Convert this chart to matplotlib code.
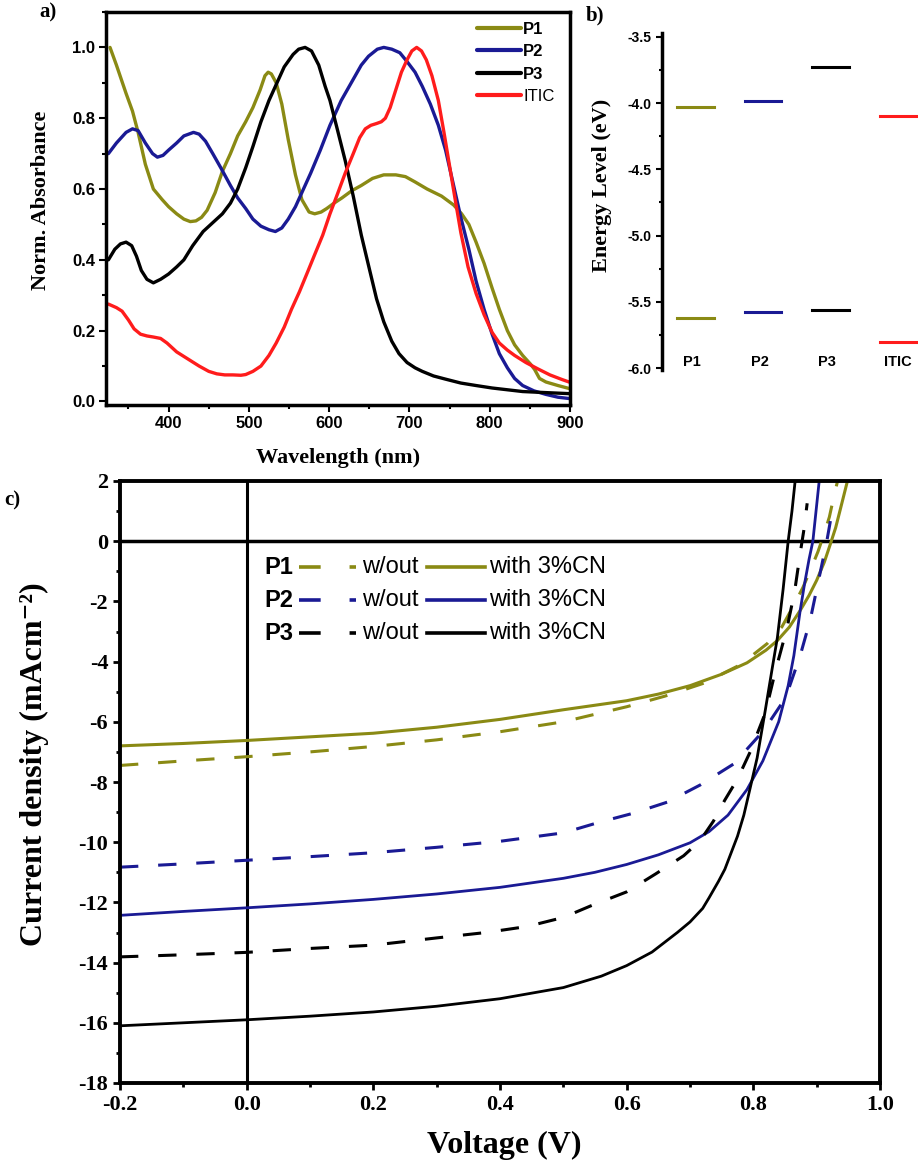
import numpy as np
import matplotlib; matplotlib.use("Agg")
import matplotlib.pyplot as plt
from matplotlib.ticker import MultipleLocator

SERIF = "Liberation Serif"
SANS = "Liberation Sans"
OLIVE, NAVY, RED, BLACK = "#8a8a14", "#1a1a94", "#ff1c1c", "#000000"

# ---- a) normalised absorbance -------------------------------------------
wl_p1 = [327, 335, 347, 355, 362, 371, 381, 392, 400, 410, 419, 427, 434, 441, 448, 458, 467,
         477, 486, 496, 505, 514, 520, 524, 528, 534, 541, 549, 558, 566, 575, 582, 590, 597,
         606, 616, 628, 640, 654, 668, 683, 695, 707, 722, 740, 755, 765, 774, 783, 793, 803,
         812, 822, 831, 841, 851, 856, 862, 870, 885, 900]
abs_p1 = [1.00, 0.95, 0.87, 0.82, 0.76, 0.67, 0.60, 0.57, 0.55, 0.53, 0.515, 0.508, 0.51, 0.52,
          0.54, 0.59, 0.65, 0.70, 0.75, 0.79, 0.83, 0.88, 0.92, 0.93, 0.925, 0.90, 0.84, 0.74,
          0.64, 0.57, 0.535, 0.53, 0.535, 0.545, 0.56, 0.575, 0.595, 0.61, 0.63, 0.64, 0.64,
          0.635, 0.62, 0.60, 0.58, 0.555, 0.53, 0.50, 0.45, 0.39, 0.32, 0.26, 0.20, 0.16, 0.13,
          0.105, 0.09, 0.065, 0.055, 0.045, 0.036]
wl_p2 = [325, 335, 347, 355, 362, 371, 380, 386, 393, 400, 410, 419, 431, 438, 446, 455, 465,
         477, 486, 496, 505, 515, 525, 533, 541, 549, 558, 568, 577, 589, 601, 615, 630, 640,
         649, 660, 668, 678, 688, 697, 707, 716, 726, 736, 745, 755, 764, 774, 783, 793, 803,
         812, 822, 831, 841, 855, 870, 885, 900]
abs_p2 = [0.70, 0.73, 0.76, 0.77, 0.765, 0.73, 0.70, 0.69, 0.695, 0.71, 0.73, 0.75, 0.76, 0.755,
          0.735, 0.70, 0.66, 0.61, 0.575, 0.545, 0.515, 0.495, 0.485, 0.48, 0.49, 0.515, 0.55,
          0.60, 0.645, 0.71, 0.78, 0.85, 0.91, 0.95, 0.975, 0.995, 1.0, 0.995, 0.985, 0.96,
          0.93, 0.89, 0.84, 0.78, 0.71, 0.61, 0.52, 0.43, 0.34, 0.26, 0.19, 0.135, 0.095,
          0.065, 0.045, 0.03, 0.02, 0.012, 0.008]
wl_p3 = [325, 333, 340, 347, 354, 360, 366, 373, 381, 390, 400, 410, 419, 430, 443, 455, 467,
         477, 486, 496, 505, 515, 525, 535, 544, 555, 562, 570, 578, 587, 595, 601, 610, 620,
         630, 640, 650, 659, 668, 678, 687, 697, 707, 716, 730, 745, 764, 783, 803, 822, 841,
         860, 880, 900]
abs_p3 = [0.40, 0.43, 0.445, 0.45, 0.44, 0.41, 0.37, 0.345, 0.335, 0.345, 0.36, 0.38, 0.40,
          0.44, 0.48, 0.505, 0.53, 0.56, 0.60, 0.66, 0.72, 0.79, 0.85, 0.90, 0.945, 0.98,
          0.995, 1.0, 0.99, 0.95, 0.89, 0.85, 0.77, 0.68, 0.58, 0.47, 0.375, 0.29, 0.225, 0.17,
          0.135, 0.11, 0.095, 0.085, 0.072, 0.063, 0.052, 0.045, 0.038, 0.033, 0.028, 0.026,
          0.024, 0.022]
wl_itic = [325, 335, 342, 350, 357, 365, 373, 381, 390, 398, 410, 424, 438, 450, 460, 470, 480,
           490, 496, 505, 515, 525, 534, 544, 553, 563, 573, 582, 592, 601, 611, 620, 630, 638,
           645, 652, 659, 665, 670, 676, 683, 690, 697, 703, 709, 715, 721, 728, 736, 743, 750,
           757, 764, 773, 783, 793, 803, 812, 822, 831, 845, 860, 875, 890, 900]
abs_itic = [0.275, 0.265, 0.255, 0.23, 0.205, 0.19, 0.185, 0.182, 0.178, 0.165, 0.14, 0.12,
            0.10, 0.085, 0.078, 0.075, 0.075, 0.074, 0.076, 0.085, 0.10, 0.13, 0.165, 0.21,
            0.26, 0.31, 0.365, 0.415, 0.47, 0.53, 0.59, 0.645, 0.70, 0.745, 0.77, 0.78, 0.785,
            0.79, 0.80, 0.83, 0.88, 0.93, 0.965, 0.99, 1.0, 0.99, 0.965, 0.92, 0.85, 0.76, 0.665,
            0.57, 0.477, 0.38, 0.305, 0.245, 0.195, 0.165, 0.145, 0.13, 0.11, 0.092, 0.075,
            0.062, 0.054]

# ---- b) energy levels ----------------------------------------------------
materials = ["P1", "P2", "P3", "ITIC"]
lumo = [-4.03, -3.98, -3.73, -4.10]
homo = [-5.62, -5.58, -5.56, -5.80]
level_colors = [OLIVE, NAVY, BLACK, RED]

# ---- c) J-V curves -------------------------------------------------------
v_p1_cn = [-0.2, -0.1, 0.0, 0.1, 0.2, 0.3, 0.4, 0.5, 0.6, 0.65, 0.7, 0.75, 0.79, 0.82, 0.838,
           0.857, 0.874, 0.888, 0.9, 0.912, 0.922, 0.93, 0.937, 0.948]
j_p1_cn = [-6.8, -6.72, -6.62, -6.5, -6.38, -6.18, -5.92, -5.6, -5.3, -5.08, -4.8, -4.42, -4.04,
           -3.62, -3.3, -2.85, -2.3, -1.8, -1.3, -0.7, -0.07, 0.45, 1.03, 1.95]
v_p1_wo = [-0.2, -0.1, 0.0, 0.1, 0.2, 0.3, 0.4, 0.5, 0.6, 0.66, 0.72, 0.78, 0.822, 0.845, 0.862,
           0.878, 0.89, 0.902, 0.911, 0.92, 0.927, 0.933]
j_p1_wo = [-7.45, -7.3, -7.16, -7.0, -6.82, -6.6, -6.33, -6.0, -5.5, -5.15, -4.73, -4.1, -3.4,
           -2.85, -2.2, -1.55, -0.97, -0.35, 0.2, 0.8, 1.47, 2.0]
v_p2_cn = [-0.2, -0.1, 0.0, 0.1, 0.2, 0.3, 0.4, 0.5, 0.55, 0.6, 0.65, 0.7, 0.73, 0.76, 0.79,
           0.815, 0.84, 0.855, 0.864, 0.874, 0.881, 0.888, 0.894, 0.899, 0.904]
j_p2_cn = [-12.43, -12.3, -12.18, -12.05, -11.9, -11.72, -11.5, -11.2, -11.0, -10.74, -10.42,
           -10.02, -9.65, -9.1, -8.25, -7.3, -6.0, -4.8, -3.8, -2.3, -1.4, -0.6, 0.0, 1.0, 2.0]
v_p2_wo = [-0.2, -0.1, 0.0, 0.1, 0.2, 0.3, 0.4, 0.5, 0.558, 0.61, 0.664, 0.716, 0.769, 0.816,
           0.851, 0.874, 0.89, 0.903, 0.916, 0.927]
j_p2_wo = [-10.83, -10.72, -10.6, -10.48, -10.35, -10.17, -9.97, -9.69, -9.33, -9.04, -8.67,
           -8.1, -7.4, -6.3, -5.2, -3.8, -2.6, -1.3, 0.0, 1.3]
v_p3_cn = [-0.2, -0.1, 0.0, 0.1, 0.2, 0.3, 0.4, 0.5, 0.56, 0.6, 0.64, 0.68, 0.70, 0.72, 0.73,
           0.745, 0.755, 0.765, 0.775, 0.785, 0.795, 0.806, 0.819, 0.83, 0.838, 0.847, 0.855,
           0.861, 0.866]
j_p3_cn = [-16.1, -16.0, -15.9, -15.78, -15.64, -15.45, -15.2, -14.83, -14.45, -14.1, -13.65,
           -13.0, -12.65, -12.2, -11.85, -11.3, -10.9, -10.35, -9.8, -9.1, -8.2, -7.2, -5.6,
           -4.2, -3.2, -1.6, 0.0, 1.0, 2.0]
v_p3_wo = [-0.2, -0.1, 0.0, 0.1, 0.2, 0.3, 0.378, 0.443, 0.5, 0.545, 0.6, 0.646, 0.69, 0.716,
           0.737, 0.755, 0.775, 0.795, 0.819, 0.835, 0.853, 0.865, 0.874, 0.88, 0.885]
j_p3_wo = [-13.81, -13.74, -13.66, -13.53, -13.42, -13.18, -13.0, -12.8, -12.5, -12.1, -11.65,
           -11.05, -10.45, -9.95, -9.3, -8.6, -7.9, -7.0, -5.7, -4.3, -2.9, -1.7, -0.4, 0.4, 1.26]

plt.rcParams["font.family"] = SANS
plt.rcParams["font.weight"] = "bold"
plt.rcParams["axes.unicode_minus"] = False

W, H = 918, 1169
fig = plt.figure(figsize=(W / 100, H / 100), dpi=100)
ax_a = fig.add_axes([106 / W, 1 - 405 / H, 464 / W, 393 / H])
ax_b = fig.add_axes([662 / W, 1 - 370 / H, 256 / W, 337 / H])
ax_c = fig.add_axes([120 / W, 1 - 1083 / H, 760 / W, 602 / H])

# ---- panel a
for wl, ab, col, lab in [(wl_p1, abs_p1, OLIVE, "P1"), (wl_p2, abs_p2, NAVY, "P2"),
                         (wl_p3, abs_p3, BLACK, "P3"), (wl_itic, abs_itic, RED, "ITIC")]:
    ax_a.plot(wl, ab, color=col, lw=2.4, label=lab, solid_capstyle="round")
ax_a.set_xlim(322, 900)
ax_a.set_ylim(-0.01, 1.1)
ax_a.xaxis.set_major_locator(MultipleLocator(100)); ax_a.xaxis.set_minor_locator(MultipleLocator(50))
ax_a.yaxis.set_major_locator(MultipleLocator(0.2)); ax_a.yaxis.set_minor_locator(MultipleLocator(0.1))
ax_a.tick_params(which="both", direction="out", width=1.5, labelsize=12, pad=3)
ax_a.tick_params(which="major", length=5); ax_a.tick_params(which="minor", length=3)
for s in ax_a.spines.values():
    s.set_linewidth(2.5)
ax_a.set_xlabel("Wavelength (nm)", family=SERIF, weight="bold", fontsize=16, va="center")
ax_a.xaxis.set_label_coords(0.5, -0.135)
ax_a.set_ylabel("Norm. Absorbance", family=SERIF, weight="bold", fontsize=16, va="center")
ax_a.yaxis.set_label_coords(-0.14, 0.52)
leg = ax_a.legend(loc="upper left", bbox_to_anchor=(0.80, 0.975), frameon=False, fontsize=12,
                  handlelength=2.6, handletextpad=0.15, labelspacing=0.45, borderpad=0,
                  borderaxespad=0)
for t in leg.get_texts()[3:]:
    t.set_fontweight("normal")
for ln in leg.get_lines():
    ln.set_linewidth(3)

# ---- panel b
for i, (m, lu, ho, col) in enumerate(zip(materials, lumo, homo, level_colors)):
    x = i + 1
    ax_b.plot([x - 0.27, x + 0.27], [lu, lu], color=col, lw=2.2)
    ax_b.plot([x - 0.27, x + 0.27], [ho, ho], color=col, lw=2.2)
    ax_b.text(x - 0.05 if i < 3 else x, -5.955, m, ha="center", va="center", fontsize=10.5)
ax_b.set_xlim(0.5, 4.3)
ax_b.set_ylim(-6.015, -3.47)
ax_b.set_xticks([])
ax_b.yaxis.set_major_locator(MultipleLocator(0.5)); ax_b.yaxis.set_minor_locator(MultipleLocator(0.25))
ax_b.tick_params(axis="y", which="both", direction="out", width=1.5, labelsize=10)
ax_b.tick_params(axis="y", which="major", length=4); ax_b.tick_params(axis="y", which="minor", length=2.5)
for side in ["top", "right", "bottom"]:
    ax_b.spines[side].set_visible(False)
ax_b.spines["left"].set_linewidth(2.5)
ax_b.set_ylabel("Energy Level (eV)", family=SERIF, weight="bold", fontsize=16, va="center")
ax_b.yaxis.set_label_coords(-0.234, 0.549)

# ---- panel c
ax_c.axhline(0, color="k", lw=2.5, zorder=1)
ax_c.axvline(0, color="k", lw=2.2, zorder=1)
dash = (0, (6, 6.5))
ax_c.plot(v_p1_wo, j_p1_wo, color=OLIVE, lw=2.2, ls=dash)
ax_c.plot(v_p1_cn, j_p1_cn, color=OLIVE, lw=2.2)
ax_c.plot(v_p2_wo, j_p2_wo, color=NAVY, lw=2.2, ls=dash)
ax_c.plot(v_p2_cn, j_p2_cn, color=NAVY, lw=2.0)
ax_c.plot(v_p3_wo, j_p3_wo, color=BLACK, lw=2.2, ls=dash)
ax_c.plot(v_p3_cn, j_p3_cn, color=BLACK, lw=2.0)
ax_c.set_xlim(-0.2, 1.0)
ax_c.set_ylim(-18, 2)
xt = np.round(np.arange(-0.2, 1.01, 0.2), 1)
ax_c.set_xticks(xt, [f"{v:.1f}" for v in xt])
yt = list(range(-18, 3, 2))
ax_c.set_yticks(yt, [str(v) for v in yt])
ax_c.xaxis.set_minor_locator(MultipleLocator(0.1)); ax_c.yaxis.set_minor_locator(MultipleLocator(1))
ax_c.tick_params(which="both", direction="out", width=2)
ax_c.tick_params(which="major", length=5); ax_c.tick_params(which="minor", length=3)
for lab in ax_c.get_xticklabels() + ax_c.get_yticklabels():
    lab.set_fontfamily(SERIF); lab.set_fontsize(16)
for s in ax_c.spines.values():
    s.set_linewidth(2.8)
ax_c.set_xlabel("Voltage (V)", family=SERIF, weight="bold", fontsize=23, va="center")
ax_c.xaxis.set_label_coords(0.506, -0.103)
ax_c.set_ylabel("Current density (mAcm\u207b\u00b2)", family=[SERIF, "DejaVu Serif"],
                weight="bold", fontsize=23, va="center")
ax_c.yaxis.set_label_coords(-0.112, 0.53)

# legend of panel c, drawn by hand (three rows: dashed / solid)
rows = [("P1", OLIVE, 0.857), ("P2", NAVY, 0.802), ("P3", BLACK, 0.747)]
for name, col, yy in rows:
    ax_c.text(0.19, yy, name, transform=ax_c.transAxes, ha="left", va="center", fontsize=17)
    ax_c.plot([0.236, 0.31], [yy, yy], transform=ax_c.transAxes, color=col, lw=2.6, ls=(0, (6, 8)))
    ax_c.text(0.318, yy, "w/out", transform=ax_c.transAxes, ha="left", va="center",
              fontsize=17, weight="normal")
    ax_c.plot([0.404, 0.48], [yy, yy], transform=ax_c.transAxes, color=col, lw=2.6)
    ax_c.text(0.486, yy, "with 3%CN", transform=ax_c.transAxes, ha="left", va="center",
              fontsize=17, weight="normal")

fig.text(48 / W, 1 - 12 / H, "a)", family=SERIF, weight="bold", fontsize=15, ha="center", va="center")
fig.text(595 / W, 1 - 15 / H, "b)", family=SERIF, weight="bold", fontsize=15, ha="center", va="center")
fig.text(12 / W, 1 - 500 / H, "c)", family=SERIF, weight="bold", fontsize=15, ha="center", va="center")

fig.savefig("out.png", dpi=100)
